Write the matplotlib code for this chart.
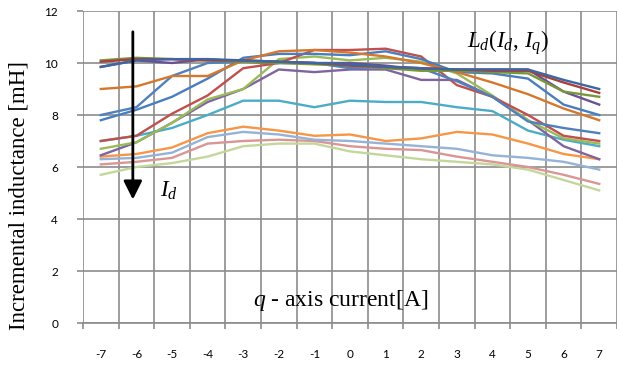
import numpy as np
import matplotlib.pyplot as plt

plt.rcParams['mathtext.fontset'] = 'custom'
plt.rcParams['mathtext.rm'] = 'Liberation Serif'
plt.rcParams['mathtext.it'] = 'Liberation Serif:italic'

# q-axis current categories
q_labels = ["-7", "-6", "-5", "-4", "-3", "-2", "-1", "0", "1", "2", "3", "4", "5", "6", "7"]

# incremental inductance [mH], one list per d-axis current level
L_darkblue = [9.85, 10.1, 10.15, 10.15, 10.1, 10.05, 10.0, 9.95, 9.85, 9.8, 9.75, 9.75, 9.75, 9.35, 9.0]
L_darkred = [10.05, 10.15, 10.15, 10.1, 10.1, 10.05, 10.0, 9.9, 9.85, 9.8, 9.75, 9.7, 9.7, 9.25, 8.85]
L_olive = [10.1, 10.2, 10.15, 10.1, 10.05, 10.0, 9.95, 9.9, 9.8, 9.7, 9.7, 9.65, 9.6, 8.9, 8.7]
L_darkpurple = [9.85, 10.1, 10.0, 10.15, 10.05, 10.0, 10.0, 10.0, 9.9, 9.75, 9.75, 9.75, 9.75, 8.9, 8.4]
L_darkorange = [9.0, 9.1, 9.5, 9.5, 10.1, 10.45, 10.5, 10.4, 10.25, 10.0, 9.65, 9.25, 8.8, 8.25, 7.8]
L_blue1 = [7.8, 8.2, 8.7, 9.4, 10.2, 10.35, 10.35, 10.3, 10.45, 10.15, 9.65, 9.6, 9.4, 8.4, 8.0]
L_blue2 = [8.0, 8.3, 9.5, 10.0, 10.05, 10.05, 10.0, 9.8, 9.85, 9.8, 9.3, 8.7, 7.75, 7.5, 7.3]
L_red = [7.0, 7.2, 8.05, 8.75, 9.8, 10.0, 10.5, 10.5, 10.55, 10.25, 9.15, 8.7, 8.0, 7.2, 7.0]
L_green = [6.7, 6.95, 7.7, 8.6, 9.0, 10.15, 10.25, 10.1, 10.2, 10.05, 9.6, 8.75, 7.8, 7.1, 6.9]
L_purple = [6.45, 6.95, 7.7, 8.5, 9.0, 9.75, 9.65, 9.75, 9.75, 9.35, 9.35, 8.7, 7.8, 6.8, 6.3]
L_aqua = [7.0, 7.2, 7.5, 8.0, 8.55, 8.55, 8.3, 8.55, 8.5, 8.5, 8.3, 8.15, 7.4, 7.05, 6.8]
L_orange = [6.4, 6.5, 6.75, 7.3, 7.55, 7.4, 7.2, 7.25, 7.0, 7.1, 7.35, 7.25, 6.9, 6.5, 6.3]
L_lightblue = [6.3, 6.35, 6.55, 7.15, 7.35, 7.25, 7.05, 7.0, 6.9, 6.8, 6.7, 6.45, 6.35, 6.2, 5.9]
L_lightred = [6.1, 6.2, 6.35, 6.9, 7.0, 7.05, 7.0, 6.8, 6.7, 6.65, 6.4, 6.2, 6.0, 5.7, 5.35]
L_lightgreen = [5.7, 6.0, 6.15, 6.4, 6.8, 6.9, 6.9, 6.6, 6.45, 6.3, 6.2, 6.1, 5.9, 5.5, 5.1]

series = [
    (L_lightgreen, "#C4D79B"),
    (L_lightred, "#DA9694"),
    (L_lightblue, "#95B3D7"),
    (L_orange, "#F79646"),
    (L_aqua, "#4BACC6"),
    (L_purple, "#8064A2"),
    (L_green, "#9BBB59"),
    (L_red, "#C0504D"),
    (L_blue2, "#4F81BD"),
    (L_blue1, "#4A7DBF"),
    (L_darkorange, "#D5772C"),
    (L_darkpurple, "#6A5193"),
    (L_olive, "#77983A"),
    (L_darkred, "#A8403D"),
    (L_darkblue, "#3D67A3"),
]

x = np.arange(len(q_labels))

fig = plt.figure(figsize=(6.17, 3.65), dpi=100)
ax = fig.add_axes([83/617, 1 - 323/365, 1 - 83/617, (323 - 11)/365])

for vals, col in series:
    ax.plot(x, vals, color=col, lw=1.7, zorder=3)

grid_col = "#8C8C8C"
ax.set_xlim(-0.5, 14.46)
ax.set_ylim(0, 12)
ax.set_yticks(np.arange(0, 13, 2))
ax.set_xticks(x)
ax.set_xticklabels(q_labels)
ax.set_xticks(np.arange(-0.5, 15, 1), minor=True)
ax.grid(True, which="minor", axis="x", color=grid_col, lw=1.2, zorder=1)
ax.grid(True, which="major", axis="y", color=grid_col, lw=1.2, zorder=1)
for s in ["left", "right", "top"]:
    ax.spines[s].set_visible(False)
ax.spines["bottom"].set_color(grid_col)
ax.spines["bottom"].set_linewidth(1.2)

ax.tick_params(axis="x", which="major", length=0, pad=19, labelsize=8.5)
ax.tick_params(axis="x", which="minor", length=4, color=grid_col, width=1.2)
ax.tick_params(axis="y", length=4, color=grid_col, width=1.2, pad=14, labelsize=8.5)
for lab in ax.get_xticklabels() + ax.get_yticklabels():
    lab.set_fontfamily("Lato")

ax.set_ylabel("Incremental inductance [mH]", fontfamily="Liberation Serif", fontsize=16.5)
ax.yaxis.set_label_coords(-0.10, 0.41)

ax.text(6.75, 0.88, r"$q$ - axis current[A]", fontsize=17, fontfamily="Liberation Serif",
        ha="center", va="center")
ax.text(11.45, 10.77, r"$L_d(I_d,\,I_q)$", fontsize=16.5, ha="center", va="center")
# arrow showing increasing d-axis current
ax.annotate("", xy=(0.9, 4.75), xytext=(0.9, 11.2),
            arrowprops=dict(arrowstyle="-|>,head_width=0.4,head_length=0.8",
                            mutation_scale=14, color="black", lw=2,
                            shrinkA=0, shrinkB=0), zorder=5)
ax.text(1.9, 5.1, r"$I_d$", fontsize=16.5, ha="center", va="center")

fig.savefig("out.png", dpi=100)
